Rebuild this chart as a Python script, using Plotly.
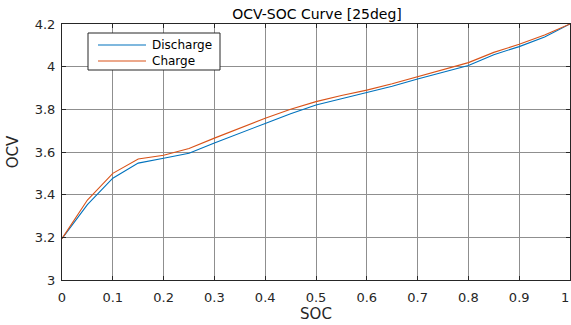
import plotly.graph_objects as go

soc = [0, 0.05, 0.1, 0.15, 0.2, 0.25, 0.3, 0.35, 0.4, 0.45, 0.5,
       0.55, 0.6, 0.65, 0.7, 0.75, 0.8, 0.85, 0.9, 0.95, 1.0]
discharge = [3.194, 3.353, 3.477, 3.548, 3.571, 3.594, 3.642, 3.689, 3.734, 3.779, 3.82,
             3.85, 3.878, 3.908, 3.942, 3.972, 4.005, 4.056, 4.094, 4.139, 4.2]
charge = [3.194, 3.375, 3.5, 3.567, 3.585, 3.616, 3.665, 3.712, 3.758, 3.8, 3.836,
          3.865, 3.89, 3.92, 3.953, 3.985, 4.019, 4.067, 4.105, 4.148, 4.2]
series_names = ["Discharge", "Charge"]
series_colors = ["#0072BD", "#D95319"]

x_ticks = [0, 0.1, 0.2, 0.3, 0.4, 0.5, 0.6, 0.7, 0.8, 0.9, 1]
x_labels = ["0", "0.1", "0.2", "0.3", "0.4", "0.5", "0.6", "0.7", "0.8", "0.9", "1"]
y_ticks = [3, 3.2, 3.4, 3.6, 3.8, 4, 4.2]
y_labels = ["3", "3.2", "3.4", "3.6", "3.8", "4", "4.2"]

font = "DejaVu Sans, Liberation Sans, sans-serif"
ink = "#262626"

fig = go.Figure()
for ys, name, col in zip([discharge, charge], series_names, series_colors):
    fig.add_trace(go.Scatter(x=soc, y=ys, mode="lines", name=name,
                             line=dict(color=col, width=1.1), showlegend=False))

axis_common = dict(showline=True, linecolor=ink, linewidth=1, mirror="ticks",
                   ticks="inside", ticklen=4, tickcolor=ink,
                   showgrid=True, gridcolor="#8f8f8f", gridwidth=1, zeroline=False,
                   automargin=False,
                   tickfont=dict(family=font, size=13, color=ink))

# the last x label sits at the window edge; it is drawn nudged inward as an annotation
x_tick_text = x_labels[:-1] + [""]

fig.update_layout(
    width=571, height=325,
    margin=dict(l=62, r=1, t=24, b=45),
    paper_bgcolor="white", plot_bgcolor="white",
    title=dict(text="OCV-SOC Curve [25deg]", xref="paper", x=0.502, xanchor="center",
               yref="container", y=0.958, yanchor="middle",
               font=dict(family=font, size=14, color="black")),
    xaxis=dict(range=[0, 1], tickvals=x_ticks, ticktext=x_tick_text, ticklabelstandoff=5,
               title=dict(text="SOC", font=dict(family=font, size=15, color=ink), standoff=2),
               **axis_common),
    yaxis=dict(range=[3, 4.2], tickvals=y_ticks, ticktext=y_labels, ticklabelstandoff=3,
               title=dict(text="OCV", font=dict(family=font, size=15, color=ink), standoff=12),
               **axis_common),
    showlegend=False,
)

# helpers mapping window pixels to plot-area paper coordinates
def px_x(p):
    return (p - 62) / 508.0

def px_y(p):
    return (280 - p) / 256.0

fig.add_annotation(xref="paper", yref="paper", x=px_x(565), y=px_y(297),
                   xanchor="center", yanchor="middle", text=x_labels[-1], showarrow=False,
                   font=dict(family=font, size=13, color=ink))

# legend box
fig.add_shape(type="rect", xref="paper", yref="paper",
              x0=px_x(88), x1=px_x(220), y0=px_y(70), y1=px_y(33),
              line=dict(color=ink, width=1), fillcolor="white", layer="above")
for i, (name, col) in enumerate(zip(series_names, series_colors)):
    yy = px_y(45 + 16 * i)
    fig.add_shape(type="line", xref="paper", yref="paper",
                  x0=px_x(98), x1=px_x(146), y0=yy, y1=yy,
                  line=dict(color=col, width=1.1), layer="above")
    fig.add_annotation(xref="paper", yref="paper", x=px_x(150), y=yy,
                       xanchor="left", yanchor="middle", text=name, showarrow=False,
                       font=dict(family=font, size=12, color="black"))

# remove the default page margin so the figure fills the 571x325 window
fig.write_html("out.html",
               config={"displayModeBar": False},
               post_script="document.body.style.margin='0px';document.body.style.overflow='hidden';")
